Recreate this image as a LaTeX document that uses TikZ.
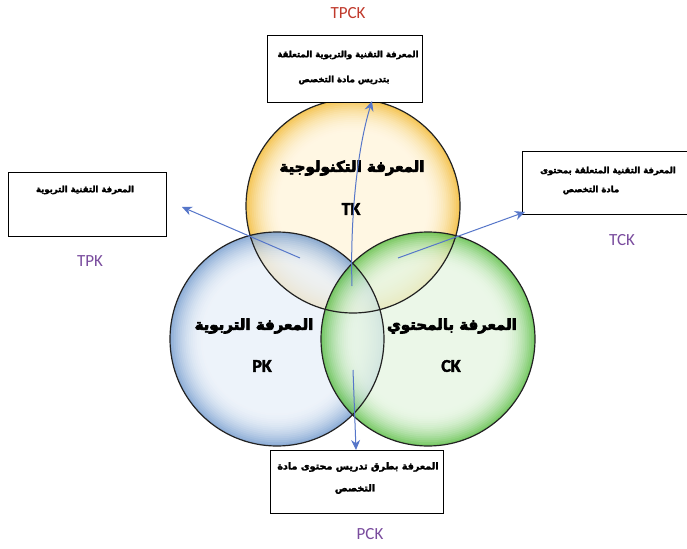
\documentclass[tikz,border=0pt]{standalone}
\usepackage{fontspec}
\setmainfont{Carlito}
\newfontfamily\arabicfont[Script=Arabic]{DejaVu Sans}
\TeXXeTstate=1
\usetikzlibrary{arrows.meta}
\newcommand{\heavytext}[2]{\special{pdf:literal direct 2 Tr #1 w}#2\special{pdf:literal direct 0 Tr}}
\definecolor{ylight}{HTML}{FFF5DC}
\definecolor{ydark}{HTML}{F2B628}
\definecolor{blight}{HTML}{E9F0F9}
\definecolor{bdark}{HTML}{6F98CC}
\definecolor{glight}{HTML}{E6F6E2}
\definecolor{gdark}{HTML}{55BC3E}
\definecolor{arrowblue}{HTML}{5676C9}
\definecolor{tpckred}{HTML}{C0392B}
\definecolor{labpurple}{HTML}{7A4C9E}
\definecolor{rim}{HTML}{222222}
\tikzset{
  ring/.style={circle, minimum size=214pt, inner sep=0pt},
  rimline/.style={draw=rim, line width=1.2pt},
  infobox/.style={draw=black, line width=0.9pt, fill=white, inner sep=0pt, anchor=north west},
  boxtext/.style={font=\arabicfont\bfseries\fontsize{8.5}{10}\selectfont, inner sep=0pt},
  bigboxtext/.style={font=\arabicfont\bfseries\fontsize{9.6}{11}\selectfont, inner sep=0pt},
  circtext/.style={font=\arabicfont\bfseries\fontsize{15}{18}\selectfont, inner sep=0pt},
  abbr/.style={font=\bfseries\fontsize{18}{20}\selectfont, inner sep=0pt},
  tag/.style={font=\fontsize{17}{20}\selectfont, inner sep=0pt},
  arr/.style={draw=arrowblue, line width=1pt, -{Stealth[length=10pt,width=9pt]}},
}
\newcommand{\softdisc}[3]{% center, dark, light
  \begin{scope}[transparency group, opacity=0.78]
  \foreach \i in {0,...,18}{
    \pgfmathsetmacro\p{100*(1-\i/18)^2}
    \fill[#2!\p!#3] (#1) circle[radius=107-1.9*\i];
  }
  \end{scope}}
\begin{document}
\begin{tikzpicture}[x=1pt,y=-1pt]
\useasboundingbox[fill=white] (0,0) rectangle (687,548);
% circles
\node[ring] (tkc) at (353,206) {};
\node[ring] (pkc) at (277,339) {};
\node[ring] (ckc) at (428,339) {};
\softdisc{tkc.center}{ydark}{ylight}
\softdisc{pkc.center}{bdark}{blight}
\softdisc{ckc.center}{gdark}{glight}
\draw[rimline] (tkc.center) circle[radius=107];
\draw[rimline] (pkc.center) circle[radius=107];
\draw[rimline] (ckc.center) circle[radius=107];
% circle texts
\node[circtext] (tkar) at (352,168) {\heavytext{0.7}{\beginR المعرفة التكنولوجية\endR}};
\node[abbr] (tk) at (351,209) {\heavytext{0.4}{TK}};
\node[circtext] (pkar) at (254,326) {\heavytext{0.7}{\beginR المعرفة التربوية\endR}};
\node[abbr] (pk) at (262,366) {\heavytext{0.4}{PK}};
\node[circtext] (ckar) at (452,326) {\heavytext{0.7}{\beginR المعرفة بالمحتوي\endR}};
\node[abbr] (ck) at (451,366) {\heavytext{0.4}{CK}};
% boxes
\node[infobox, minimum width=155pt, minimum height=67pt] (tpckbox) at (267,35) {};
\node[boxtext] (tpckt1) at (348,55) {\heavytext{0.25}{\beginR المعرفة التقنية والتربوية المتعلقة\endR}};
\node[boxtext] (tpckt2) at (344,80) {\heavytext{0.25}{\beginR بتدريس مادة التخصص\endR}};
\node[infobox, minimum width=158pt, minimum height=64pt] (tpkbox) at (8,172) {};
\node[boxtext] (tpkt) at (85,190) {\heavytext{0.25}{\beginR المعرفة التقنية التربوية\endR}};
\node[infobox, minimum width=170pt, minimum height=63pt] (tckbox) at (522,151) {};
\node[boxtext] (tckt1) at (608,171) {\heavytext{0.25}{\beginR المعرفة التقنية المتعلقة بمحتوى\endR}};
\node[boxtext] (tckt2) at (591,190) {\heavytext{0.25}{\beginR مادة التخصص\endR}};
\node[infobox, minimum width=173pt, minimum height=63pt] (pckbox) at (270,450) {};
\node[bigboxtext] (pckt1) at (358,467) {\heavytext{0.25}{\beginR المعرفة بطرق تدريس محتوى مادة\endR}};
\node[bigboxtext] (pckt2) at (355,489) {\heavytext{0.25}{\beginR التخصص\endR}};
% labels
\node[tag, text=tpckred] (tpck) at (348,13) {TPCK};
\node[tag, text=labpurple] (tpk) at (90,261) {TPK};
\node[tag, text=labpurple] (tck) at (622,240) {TCK};
\node[tag, text=labpurple] (pck) at (370,534) {PCK};
% arrow anchors
\coordinate (tpckstart) at (352,286);
\coordinate (tpckend) at (372,101);
\coordinate (tpkstart) at (300,258);
\coordinate (tpkend) at (182,207);
\coordinate (tckstart) at (398,258);
\coordinate (tckend) at (525,212);
\coordinate (pckstart) at (353,370);
\coordinate (pckend) at (356,450);
\draw[arr] (tpckstart) .. controls (350,220) and (357,150) .. (tpckend);
\draw[arr] (tpkstart) -- (tpkend);
\draw[arr] (tckstart) -- (tckend);
\draw[arr] (pckstart) -- (pckend);
\end{tikzpicture}
\end{document}
